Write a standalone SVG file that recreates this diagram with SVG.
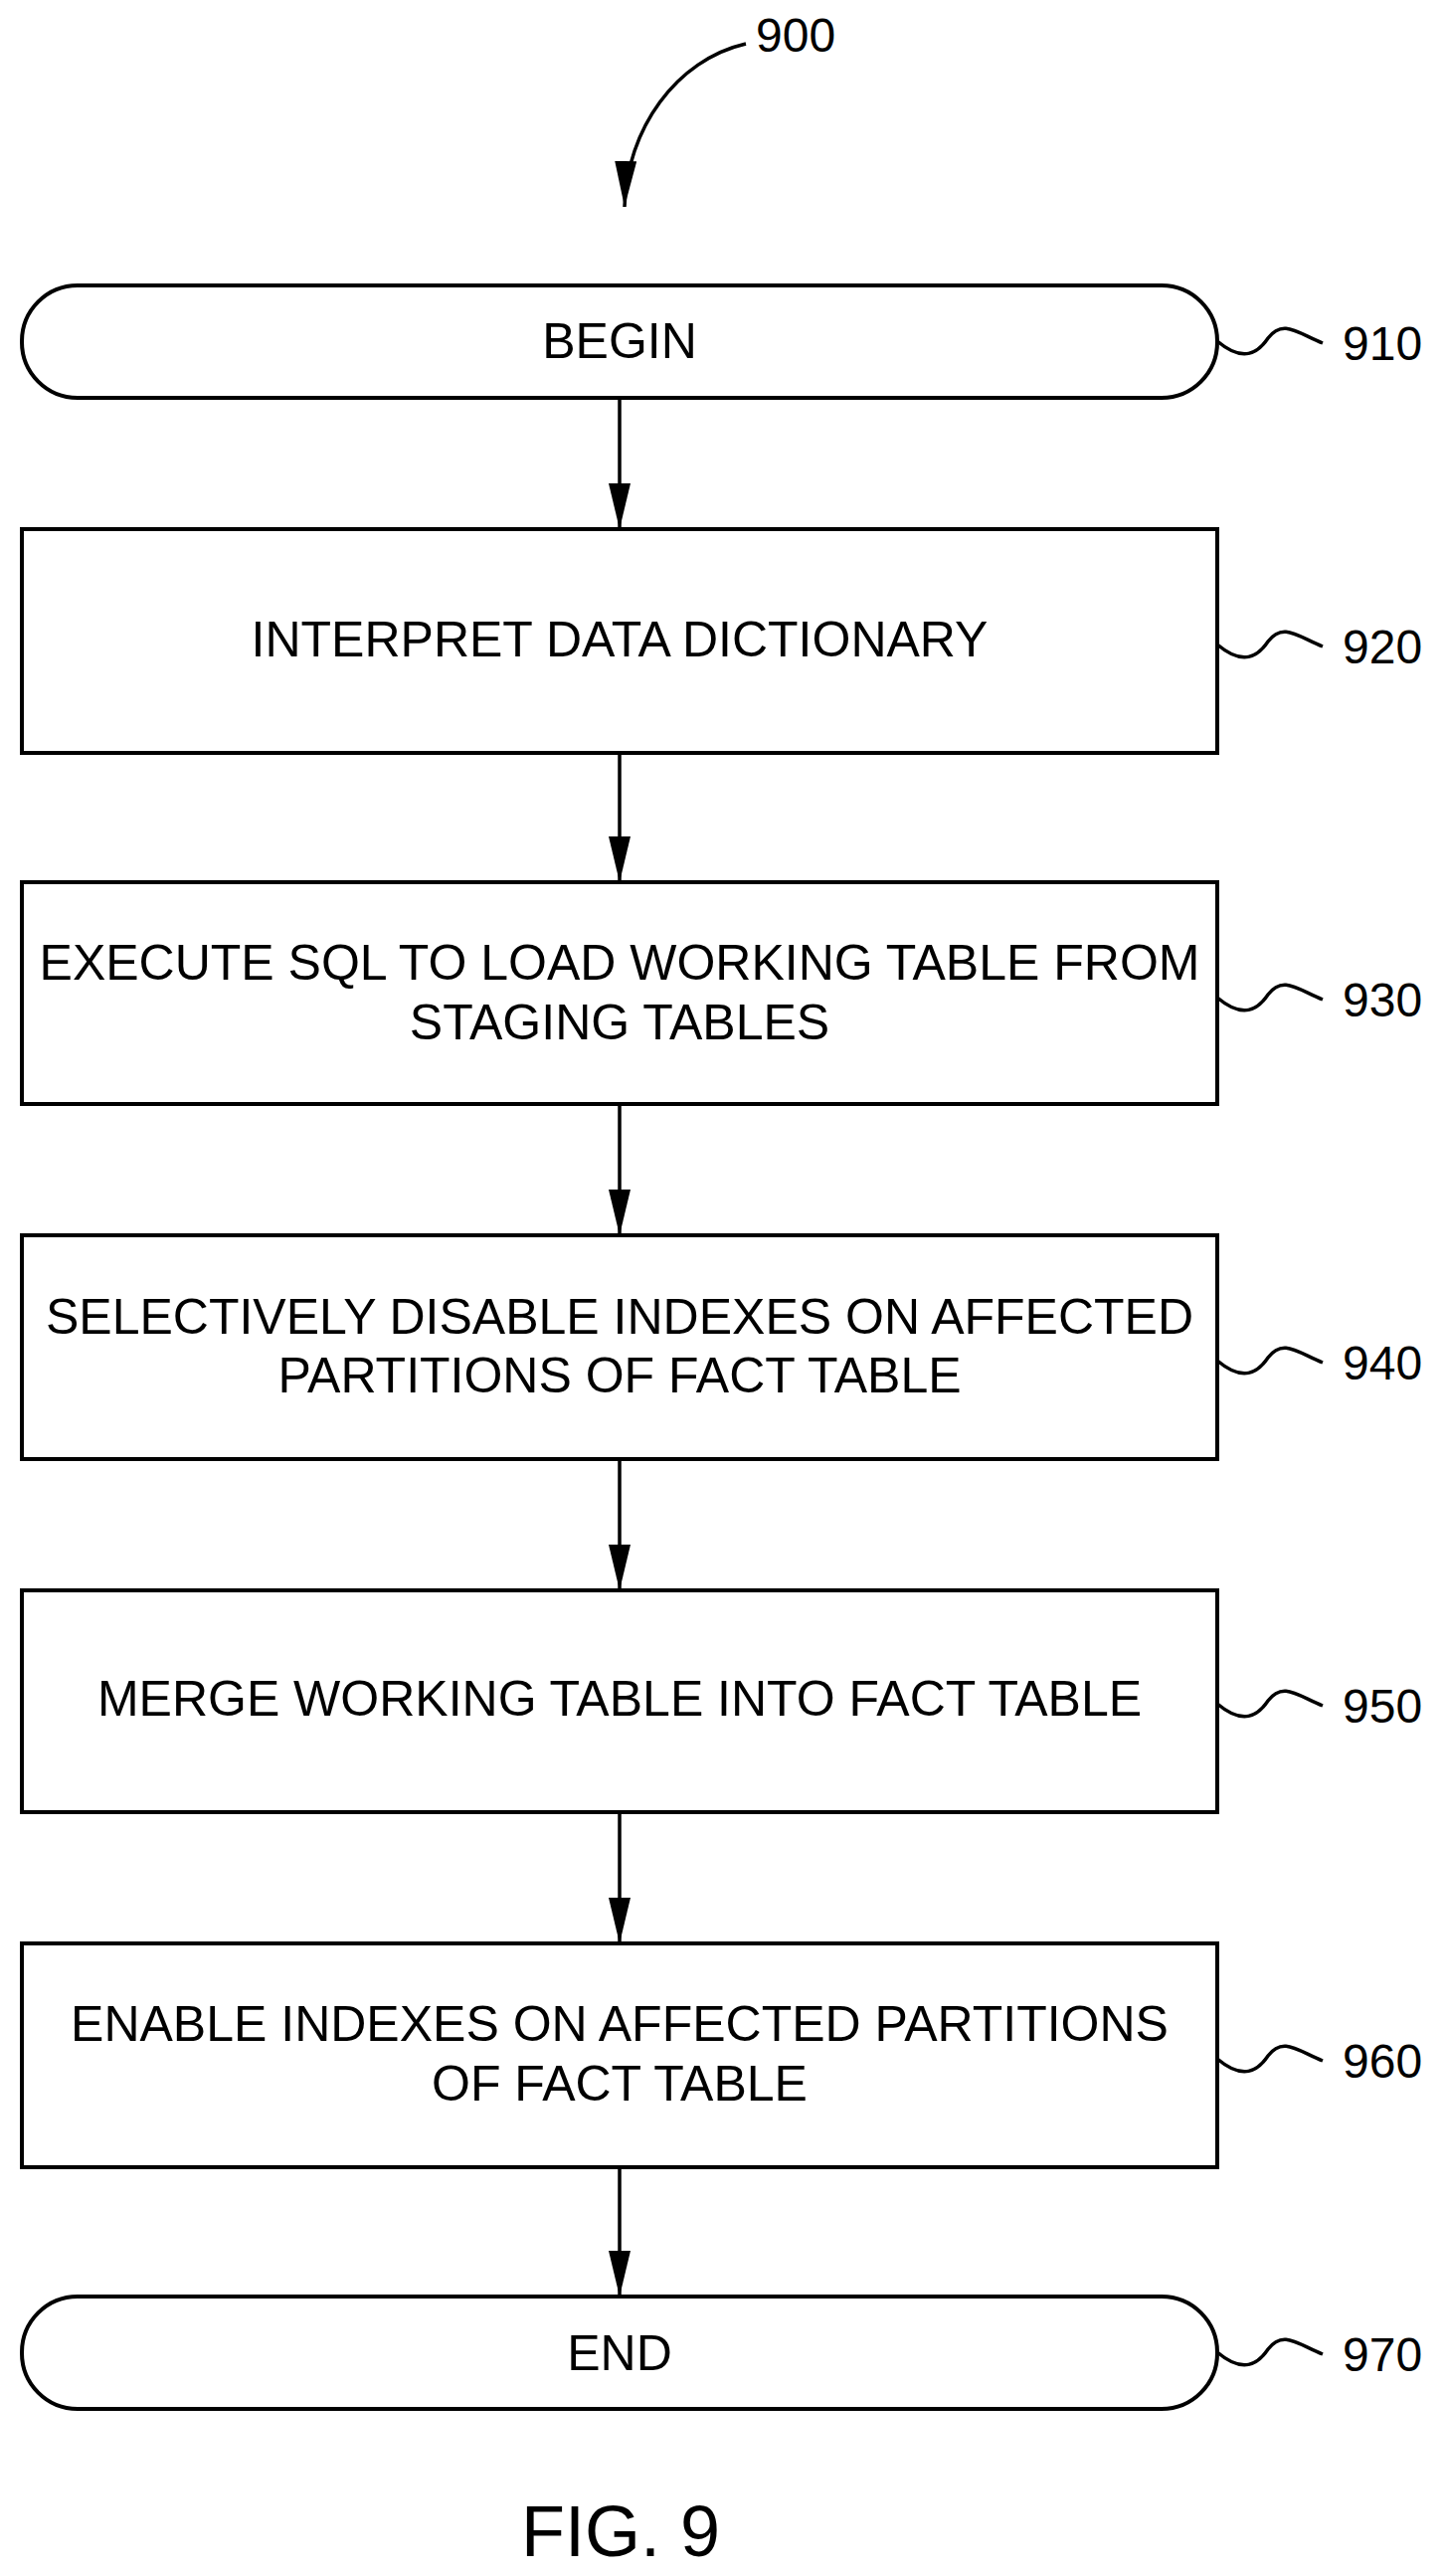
<svg xmlns="http://www.w3.org/2000/svg" width="1454" height="2590" viewBox="0 0 1454 2590">
<defs>
<marker id="ah" markerWidth="46" markerHeight="22" refX="46" refY="11" orient="auto" markerUnits="userSpaceOnUse" viewBox="0 0 46 22"><path d="M0,0 L46,11 L0,22 Z" fill="#000"/></marker>
</defs>
<style>
.b{fill:#fff;stroke:#000;stroke-width:4}
.t{font-family:"Liberation Sans",Arial,sans-serif;font-size:50px;text-anchor:middle;fill:#000}
.l{font-family:"Liberation Sans",Arial,sans-serif;font-size:48px;fill:#000}
.c{fill:none;stroke:#000;stroke-width:3.5}
</style>
<rect width="1454" height="2590" fill="#fff"/>
<g id="n900"><text class="l" x="760" y="52">900</text></g>
<g id="n910"><rect class="b" x="22" y="287" width="1202" height="113" rx="56"/><text class="t" x="623" y="360">BEGIN</text><path class="c" d="M1224,343 C1250,365 1265,355 1275,340 C1290,320 1305,335 1330,345"/><text class="l" x="1350" y="362">910</text></g>
<g id="n920"><rect class="b" x="22" y="532" width="1202" height="225"/><text class="t" x="623" y="660">INTERPRET DATA DICTIONARY</text><path class="c" d="M1224,648 C1250,670 1265,660 1275,645 C1290,625 1305,640 1330,650"/><text class="l" x="1350" y="667">920</text></g>
<g id="n930"><rect class="b" x="22" y="887" width="1202" height="223"/><text class="t" x="623" y="985">EXECUTE SQL TO LOAD WORKING TABLE FROM</text><text class="t" x="623" y="1045">STAGING TABLES</text><path class="c" d="M1224,1003 C1250,1025 1265,1015 1275,1000 C1290,980 1305,995 1330,1005"/><text class="l" x="1350" y="1022">930</text></g>
<g id="n940"><rect class="b" x="22" y="1242" width="1202" height="225"/><text class="t" x="623" y="1341">SELECTIVELY DISABLE INDEXES ON AFFECTED</text><text class="t" x="623" y="1400">PARTITIONS OF FACT TABLE</text><path class="c" d="M1224,1368 C1250,1390 1265,1380 1275,1365 C1290,1345 1305,1360 1330,1370"/><text class="l" x="1350" y="1387">940</text></g>
<g id="n950"><rect class="b" x="22" y="1599" width="1202" height="223"/><text class="t" x="623" y="1725">MERGE WORKING TABLE INTO FACT TABLE</text><path class="c" d="M1224,1713 C1250,1735 1265,1725 1275,1710 C1290,1690 1305,1705 1330,1715"/><text class="l" x="1350" y="1732">950</text></g>
<g id="n960"><rect class="b" x="22" y="1954" width="1202" height="225"/><text class="t" x="623" y="2052">ENABLE INDEXES ON AFFECTED PARTITIONS</text><text class="t" x="623" y="2112">OF FACT TABLE</text><path class="c" d="M1224,2070 C1250,2092 1265,2082 1275,2067 C1290,2047 1305,2062 1330,2072"/><text class="l" x="1350" y="2089">960</text></g>
<g id="n970"><rect class="b" x="22" y="2309" width="1202" height="113" rx="56"/><text class="t" x="623" y="2383">END</text><path class="c" d="M1224,2365 C1250,2387 1265,2377 1275,2362 C1290,2342 1305,2357 1330,2367"/><text class="l" x="1350" y="2384">970</text></g>
<g id="fig"><text class="t" x="624" y="2570" style="font-size:72px">FIG. 9</text></g>
<g id="connectors">
<path class="c" d="M750,44 C680,60 630,130 628,208" marker-end="url(#ah)"/>
<line class="c" x1="623" y1="400" x2="623" y2="532" marker-end="url(#ah)"/>
<line class="c" x1="623" y1="757" x2="623" y2="887" marker-end="url(#ah)"/>
<line class="c" x1="623" y1="1110" x2="623" y2="1242" marker-end="url(#ah)"/>
<line class="c" x1="623" y1="1467" x2="623" y2="1599" marker-end="url(#ah)"/>
<line class="c" x1="623" y1="1822" x2="623" y2="1954" marker-end="url(#ah)"/>
<line class="c" x1="623" y1="2179" x2="623" y2="2309" marker-end="url(#ah)"/>
</g>
</svg>
